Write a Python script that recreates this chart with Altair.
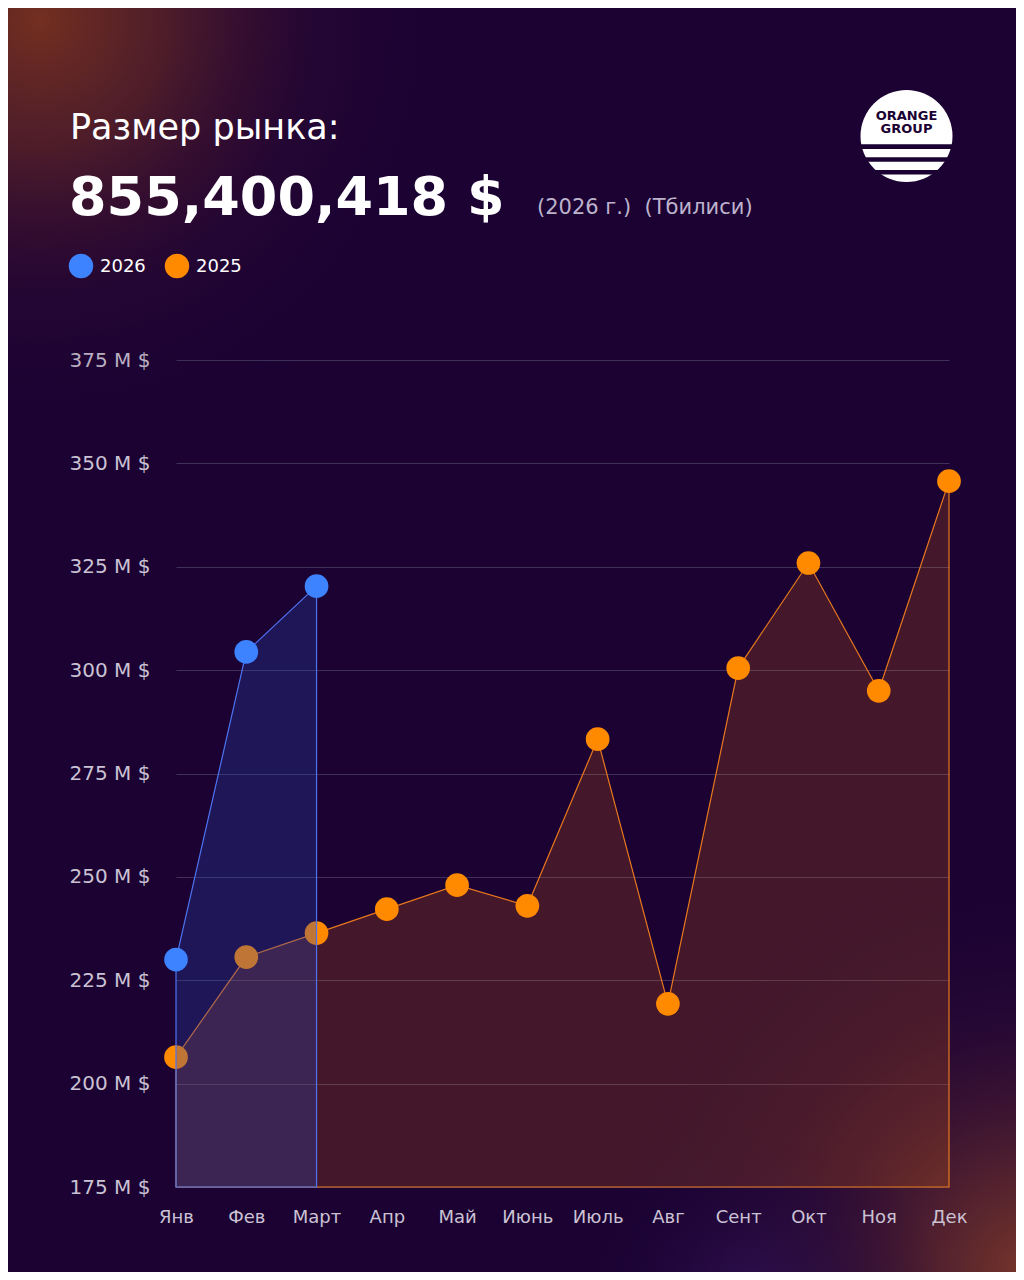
import altair as alt
import pandas as pd

# ---- data ----
months = ["Янв", "Фев", "Март", "Апр", "Май", "Июнь", "Июль", "Авг", "Сент", "Окт", "Ноя", "Дек"]
values_2025 = [206.4, 230.6, 236.4, 242.2, 248.0, 243.0, 283.3, 219.3, 300.5, 325.9, 295.0, 345.7]
months_2026 = ["Янв", "Фев", "Март"]
values_2026 = [230.0, 304.4, 320.3]
y_ticks = [175, 200, 225, 250, 275, 300, 325, 350, 375]

title_line = "Размер рынка:"
total_line = "855,400,418 $"
sub_line = "(2026 г.)\u00a0 (Тбилиси)"
legend_labels = ["2026", "2025"]
logo_lines = ["ORANGE", "GROUP"]

BG = "#1b0233"
FONT = "DejaVu Sans"
ORANGE = "#ff8a00"
BLUE = "#3d82ff"

df25 = pd.DataFrame({"month": months, "value": values_2025})
df26 = pd.DataFrame({"month": months_2026, "value": values_2026})

W, H = 773, 827
x_enc = alt.X("month:N", sort=months, title=None,
              scale=alt.Scale(type="point", padding=0),
              axis=alt.Axis(labelAngle=0, domain=False, ticks=False, grid=False,
                            labelColor="#cbc2d4", labelFont=FONT, labelFontSize=18,
                            labelPadding=21, zindex=1))
y_enc = alt.Y("value:Q", title=None,
              scale=alt.Scale(domain=[175, 375], zero=False, nice=False),
              axis=alt.Axis(values=y_ticks, domain=False, ticks=False, tickSize=0,
                            grid=True, gridColor="#3f3158", gridWidth=1,
                            labelColor="#cbc2d4", labelFont=FONT, labelFontSize=20,
                            labelAlign="left", labelPadding=107,
                            labelExpr="datum.value + ' M $'"))


def one(text):
    return pd.DataFrame({"t": [text]})


def glow(x1, y1, x2, y2, stops):
    return alt.Chart(one("g")).mark_rect(
        fill=alt.Gradient(gradient="radial", x1=0.5, y1=0.5, r1=0, x2=0.5, y2=0.5, r2=0.5,
                          stops=[alt.GradientStop(offset=o, color=c) for o, c in stops])
    ).encode(x=alt.value(x1), x2=alt.value(x2), y=alt.value(y1), y2=alt.value(y2))


# page -> plot coords: x-176, y-360
glow_tl = glow(-566, -770, 294, 90, [(0, "rgba(125,52,30,0.9)"), (0.3, "rgba(110,45,35,0.6)"),
                                     (0.65, "rgba(70,20,50,0.2)"), (1, "rgba(27,2,51,0)")])
glow_br = glow(444, 500, 1264, 1320, [(0, "rgba(130,60,40,0.9)"), (0.3, "rgba(110,48,45,0.55)"),
                                      (0.65, "rgba(70,25,55,0.2)"), (1, "rgba(27,2,51,0)")])
glow_b = glow(390, 760, 770, 1140, [(0, "rgba(55,25,100,0.6)"), (1, "rgba(27,2,51,0)")])


def text_layer(text, x, y, size, color="white", weight="normal", align="left", baseline="alphabetic"):
    return alt.Chart(one(text)).mark_text(
        font=FONT, fontSize=size, fontWeight=weight, color=color, align=align, baseline=baseline
    ).encode(text="t:N", x=alt.value(x), y=alt.value(y))


t1 = text_layer(title_line, -106, -221, 35)
t2 = text_layer(total_line, -107, -145, 54, weight="bold")
t3 = text_layer(sub_line, 361, -146, 21, color="#bdb3cc")

leg_dot1 = alt.Chart(one("a")).mark_circle(size=600, opacity=1, color=BLUE).encode(
    x=alt.value(-95), y=alt.value(-94))
leg_dot2 = alt.Chart(one("b")).mark_circle(size=600, opacity=1, color=ORANGE).encode(
    x=alt.value(1), y=alt.value(-94))
leg_t1 = text_layer(legend_labels[0], -76, -93, 18, baseline="middle")
leg_t2 = text_layer(legend_labels[1], 20, -93, 18, baseline="middle")

logo_circle = alt.Chart(one("c")).mark_circle(size=8464, opacity=1, color="white").encode(
    x=alt.value(730.5), y=alt.value(-224))
stripes = [
    alt.Chart(one("s")).mark_rect(color=BG).encode(
        x=alt.value(676), x2=alt.value(786), y=alt.value(a), y2=alt.value(b))
    for a, b in [(-215.7, -211.0), (-202.8, -198.3), (-190.0, -185.5)]
]
logo_t1 = text_layer(logo_lines[0], 730.5, -244, 13, color=BG, weight="bold", align="center", baseline="middle")
logo_t2 = text_layer(logo_lines[1], 730.5, -231, 13, color=BG, weight="bold", align="center", baseline="middle")

area25 = alt.Chart(df25).mark_area(
    fill="#ff7a0a", fillOpacity=0.18, stroke="#e8781e", strokeWidth=1.2
).encode(x=x_enc, y=y_enc, y2=alt.datum(175))
pts25 = alt.Chart(df25).mark_circle(size=560, opacity=1, color=ORANGE).encode(x=x_enc, y=y_enc)

area26 = alt.Chart(df26).mark_area(
    fill="#2b45b0", fillOpacity=0.3, stroke="#4d74f0", strokeWidth=1.2
).encode(x=x_enc, y=y_enc, y2=alt.datum(175))
pts26 = alt.Chart(df26).mark_circle(size=560, opacity=1, color=BLUE).encode(x=x_enc, y=y_enc)

chart = alt.layer(
    glow_tl, glow_br, glow_b,
    area25, pts25, area26, pts26,
    t1, t2, t3, leg_dot1, leg_dot2, leg_t1, leg_t2,
    logo_circle, *stripes, logo_t1, logo_t2,
).properties(
    width=W, height=H,
    autosize=alt.AutoSizeParams(type="none"),
    padding={"left": 168, "top": 352, "right": 67, "bottom": 85},
    background=BG,
).configure_view(stroke=None)

chart.save("out.html", embed_options={"renderer": "svg", "actions": False})
